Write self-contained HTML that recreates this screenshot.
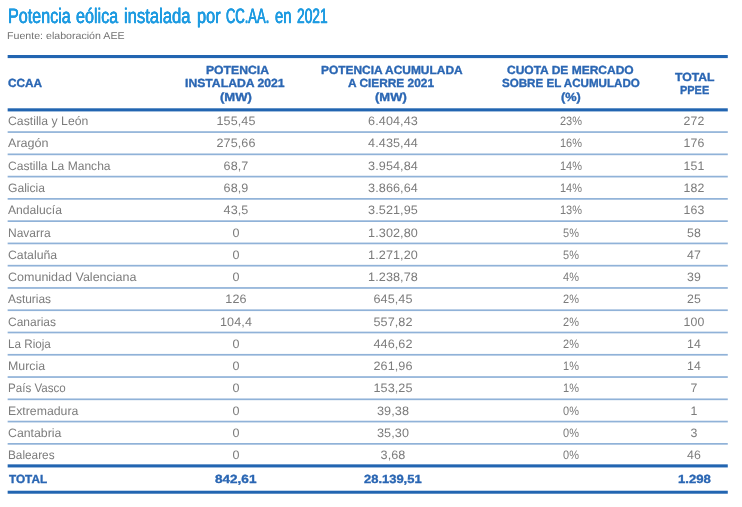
<!DOCTYPE html>
<html lang="es"><head><meta charset="utf-8"><title>Potencia eólica instalada por CC.AA. en 2021</title>
<style>
html,body{margin:0;padding:0;background:#fff;}
body{will-change:transform;text-rendering:geometricPrecision;width:742px;height:507px;position:relative;overflow:hidden;font-family:"Liberation Sans",sans-serif;}
.t{position:absolute;white-space:nowrap;line-height:1;transform-origin:0 0;}
.title{font-size:20.9px;color:#1e9be1;transform-origin:0 0;-webkit-text-stroke:0.3px #1e9be1;}
.sub{font-size:10px;color:#727272;}
.ln{position:absolute;left:0;top:0;}
.h{color:#2a66b3;font-weight:bold;font-size:11.8px;-webkit-text-stroke:0.35px #2a66b3;}
.c{transform:translateX(-50%);transform-origin:50% 50%;text-align:center;}
.d{color:#7c7c7c;font-size:12.2px;}
.n{letter-spacing:0.1px;}
.tot{color:#2a66b3;font-weight:bold;font-size:11.8px;-webkit-text-stroke:0.35px #2a66b3;}
</style></head>
<body>
<div class="t title" style="left:7.87px;top:7.00px;transform:scaleX(0.7719);text-shadow:0.22px 0 0 #1e9be1,-0.22px 0 0 #1e9be1">Potencia</div>
<div class="t title" style="left:75.66px;top:7.00px;transform:scaleX(0.7727);text-shadow:0.21px 0 0 #1e9be1,-0.21px 0 0 #1e9be1">eólica</div>
<div class="t title" style="left:124.34px;top:7.00px;transform:scaleX(0.7952);text-shadow:0.19px 0 0 #1e9be1,-0.19px 0 0 #1e9be1">instalada</div>
<div class="t title" style="left:196.95px;top:7.00px;transform:scaleX(0.7840);text-shadow:0.19px 0 0 #1e9be1,-0.19px 0 0 #1e9be1">por</div>
<div class="t title" style="left:225.95px;top:7.00px;transform:scaleX(0.6208);text-shadow:0.44px 0 0 #1e9be1,-0.44px 0 0 #1e9be1">CC.AA.</div>
<div class="t title" style="left:274.64px;top:7.00px;transform:scaleX(0.7092);text-shadow:0.27px 0 0 #1e9be1,-0.27px 0 0 #1e9be1">en</div>
<div class="t title" style="left:296.79px;top:7.00px;transform:scaleX(0.6597);text-shadow:0.37px 0 0 #1e9be1,-0.37px 0 0 #1e9be1">2021</div>
<div class="t sub" style="left:7.15px;top:32.00px;transform:scaleX(1.0626);">Fuente: elaboración AEE</div>
<svg class="ln" width="742" height="507" viewBox="0 0 742 507" shape-rendering="geometricPrecision"><g fill="#2265b1"><rect x="7.65" y="55.00" width="720.13" height="3.10"/><rect x="7.65" y="108.30" width="720.13" height="3.12"/><rect x="7.65" y="464.35" width="720.13" height="3.10"/><rect x="7.65" y="490.72" width="720.13" height="3.00"/><rect x="7.65" y="131.22" width="720.13" height="1.70" fill-opacity="0.5"/><rect x="7.65" y="153.49" width="720.13" height="1.70" fill-opacity="0.5"/><rect x="7.65" y="175.76" width="720.13" height="1.70" fill-opacity="0.5"/><rect x="7.65" y="198.03" width="720.13" height="1.70" fill-opacity="0.5"/><rect x="7.65" y="220.30" width="720.13" height="1.70" fill-opacity="0.5"/><rect x="7.65" y="242.57" width="720.13" height="1.70" fill-opacity="0.5"/><rect x="7.65" y="264.84" width="720.13" height="1.70" fill-opacity="0.5"/><rect x="7.65" y="287.11" width="720.13" height="1.70" fill-opacity="0.5"/><rect x="7.65" y="309.38" width="720.13" height="1.70" fill-opacity="0.5"/><rect x="7.65" y="331.65" width="720.13" height="1.70" fill-opacity="0.5"/><rect x="7.65" y="353.92" width="720.13" height="1.70" fill-opacity="0.5"/><rect x="7.65" y="376.19" width="720.13" height="1.70" fill-opacity="0.5"/><rect x="7.65" y="398.46" width="720.13" height="1.70" fill-opacity="0.5"/><rect x="7.65" y="420.73" width="720.13" height="1.70" fill-opacity="0.5"/><rect x="7.65" y="443.00" width="720.13" height="1.70" fill-opacity="0.5"/></g></svg>
<div class="t h" style="left:7.50px;top:78.00px;transform:scaleX(1.0011);">CCAA</div>
<div class="t h" style="left:206.18px;top:65.00px;transform:scaleX(1.0325);">POTENCIA</div>
<div class="t h" style="left:185.38px;top:78.00px;transform:scaleX(1.0338);">INSTALADA 2021</div>
<div class="t h" style="left:219.95px;top:92.00px;transform:scaleX(1.1081);">(MW)</div>
<div class="t h" style="left:321.19px;top:65.00px;transform:scaleX(1.0113);">POTENCIA ACUMULADA</div>
<div class="t h" style="left:348.20px;top:78.00px;transform:scaleX(1.0064);">A CIERRE 2021</div>
<div class="t h" style="left:375.25px;top:92.00px;transform:scaleX(1.1009);">(MW)</div>
<div class="t h" style="left:507.29px;top:65.00px;transform:scaleX(1.0176);">CUOTA DE MERCADO</div>
<div class="t h" style="left:501.61px;top:78.00px;transform:scaleX(0.9824);">SOBRE EL ACUMULADO</div>
<div class="t h" style="left:561.26px;top:92.00px;transform:scaleX(1.0796);">(%)</div>
<div class="t h" style="left:674.95px;top:72.00px;transform:scaleX(1.0350);">TOTAL</div>
<div class="t h" style="left:679.85px;top:85.00px;transform:scaleX(0.9273);">PPEE</div>
<div class="t d" style="left:7.50px;top:115.00px;transform:scaleX(1.0046);">Castilla y León</div>
<div class="t d n c" style="left:235.8px;top:115.00px;transform:translateX(-50%) scaleX(1.030)">155,45</div>
<div class="t d n c" style="left:392.9px;top:115.00px;transform:translateX(-50%) scaleX(1.035)">6.404,43</div>
<div class="t d n c" style="left:570.8px;top:115.00px;transform:translateX(-50%) scaleX(0.900)">23%</div>
<div class="t d n c" style="left:694.3px;top:115.00px;transform:translateX(-50%) scaleX(1.010)">272</div>
<div class="t d" style="left:8.10px;top:137.00px;transform:scaleX(1.0323);">Aragón</div>
<div class="t d n c" style="left:235.8px;top:137.00px;transform:translateX(-50%) scaleX(1.030)">275,66</div>
<div class="t d n c" style="left:392.9px;top:137.00px;transform:translateX(-50%) scaleX(1.035)">4.435,44</div>
<div class="t d n c" style="left:570.8px;top:137.00px;transform:translateX(-50%) scaleX(0.900)">16%</div>
<div class="t d n c" style="left:694.3px;top:137.00px;transform:translateX(-50%) scaleX(1.010)">176</div>
<div class="t d" style="left:7.61px;top:160.00px;transform:scaleX(0.9896);">Castilla La Mancha</div>
<div class="t d n c" style="left:235.8px;top:160.00px;transform:translateX(-50%) scaleX(1.030)">68,7</div>
<div class="t d n c" style="left:392.9px;top:160.00px;transform:translateX(-50%) scaleX(1.035)">3.954,84</div>
<div class="t d n c" style="left:570.8px;top:160.00px;transform:translateX(-50%) scaleX(0.900)">14%</div>
<div class="t d n c" style="left:694.3px;top:160.00px;transform:translateX(-50%) scaleX(1.010)">151</div>
<div class="t d" style="left:7.60px;top:182.00px;transform:scaleX(0.9944);">Galicia</div>
<div class="t d n c" style="left:235.8px;top:182.00px;transform:translateX(-50%) scaleX(1.030)">68,9</div>
<div class="t d n c" style="left:392.9px;top:182.00px;transform:translateX(-50%) scaleX(1.035)">3.866,64</div>
<div class="t d n c" style="left:570.8px;top:182.00px;transform:translateX(-50%) scaleX(0.900)">14%</div>
<div class="t d n c" style="left:694.3px;top:182.00px;transform:translateX(-50%) scaleX(1.010)">182</div>
<div class="t d" style="left:8.20px;top:204.00px;transform:scaleX(0.9949);">Andalucía</div>
<div class="t d n c" style="left:235.8px;top:204.00px;transform:translateX(-50%) scaleX(1.030)">43,5</div>
<div class="t d n c" style="left:392.9px;top:204.00px;transform:translateX(-50%) scaleX(1.035)">3.521,95</div>
<div class="t d n c" style="left:570.8px;top:204.00px;transform:translateX(-50%) scaleX(0.900)">13%</div>
<div class="t d n c" style="left:694.3px;top:204.00px;transform:translateX(-50%) scaleX(1.010)">163</div>
<div class="t d" style="left:7.62px;top:227.00px;transform:scaleX(0.9834);">Navarra</div>
<div class="t d n c" style="left:235.8px;top:227.00px;transform:translateX(-50%) scaleX(1.030)">0</div>
<div class="t d n c" style="left:392.9px;top:227.00px;transform:translateX(-50%) scaleX(1.035)">1.302,80</div>
<div class="t d n c" style="left:570.8px;top:227.00px;transform:translateX(-50%) scaleX(0.900)">5%</div>
<div class="t d n c" style="left:694.3px;top:227.00px;transform:translateX(-50%) scaleX(1.010)">58</div>
<div class="t d" style="left:7.60px;top:249.00px;transform:scaleX(1.0072);">Cataluña</div>
<div class="t d n c" style="left:235.8px;top:249.00px;transform:translateX(-50%) scaleX(1.030)">0</div>
<div class="t d n c" style="left:392.9px;top:249.00px;transform:translateX(-50%) scaleX(1.035)">1.271,20</div>
<div class="t d n c" style="left:570.8px;top:249.00px;transform:translateX(-50%) scaleX(0.900)">5%</div>
<div class="t d n c" style="left:694.3px;top:249.00px;transform:translateX(-50%) scaleX(1.010)">47</div>
<div class="t d" style="left:7.58px;top:271.00px;transform:scaleX(1.0268);">Comunidad Valenciana</div>
<div class="t d n c" style="left:235.8px;top:271.00px;transform:translateX(-50%) scaleX(1.030)">0</div>
<div class="t d n c" style="left:392.9px;top:271.00px;transform:translateX(-50%) scaleX(1.035)">1.238,78</div>
<div class="t d n c" style="left:570.8px;top:271.00px;transform:translateX(-50%) scaleX(0.900)">4%</div>
<div class="t d n c" style="left:694.3px;top:271.00px;transform:translateX(-50%) scaleX(1.010)">39</div>
<div class="t d" style="left:8.20px;top:293.00px;transform:scaleX(0.9778);">Asturias</div>
<div class="t d n c" style="left:235.8px;top:293.00px;transform:translateX(-50%) scaleX(1.030)">126</div>
<div class="t d n c" style="left:392.9px;top:293.00px;transform:translateX(-50%) scaleX(1.035)">645,45</div>
<div class="t d n c" style="left:570.8px;top:293.00px;transform:translateX(-50%) scaleX(0.900)">2%</div>
<div class="t d n c" style="left:694.3px;top:293.00px;transform:translateX(-50%) scaleX(1.010)">25</div>
<div class="t d" style="left:7.61px;top:316.00px;transform:scaleX(0.9838);">Canarias</div>
<div class="t d n c" style="left:235.8px;top:316.00px;transform:translateX(-50%) scaleX(1.030)">104,4</div>
<div class="t d n c" style="left:392.9px;top:316.00px;transform:translateX(-50%) scaleX(1.035)">557,82</div>
<div class="t d n c" style="left:570.8px;top:316.00px;transform:translateX(-50%) scaleX(0.900)">2%</div>
<div class="t d n c" style="left:694.3px;top:316.00px;transform:translateX(-50%) scaleX(1.010)">100</div>
<div class="t d" style="left:7.64px;top:338.00px;transform:scaleX(0.9571);">La Rioja</div>
<div class="t d n c" style="left:235.8px;top:338.00px;transform:translateX(-50%) scaleX(1.030)">0</div>
<div class="t d n c" style="left:392.9px;top:338.00px;transform:translateX(-50%) scaleX(1.035)">446,62</div>
<div class="t d n c" style="left:570.8px;top:338.00px;transform:translateX(-50%) scaleX(0.900)">2%</div>
<div class="t d n c" style="left:694.3px;top:338.00px;transform:translateX(-50%) scaleX(1.010)">14</div>
<div class="t d" style="left:7.59px;top:360.00px;transform:scaleX(1.0135);">Murcia</div>
<div class="t d n c" style="left:235.8px;top:360.00px;transform:translateX(-50%) scaleX(1.030)">0</div>
<div class="t d n c" style="left:392.9px;top:360.00px;transform:translateX(-50%) scaleX(1.035)">261,96</div>
<div class="t d n c" style="left:570.8px;top:360.00px;transform:translateX(-50%) scaleX(0.900)">1%</div>
<div class="t d n c" style="left:694.3px;top:360.00px;transform:translateX(-50%) scaleX(1.010)">14</div>
<div class="t d" style="left:7.65px;top:382.00px;transform:scaleX(0.9508);">País Vasco</div>
<div class="t d n c" style="left:235.8px;top:382.00px;transform:translateX(-50%) scaleX(1.030)">0</div>
<div class="t d n c" style="left:392.9px;top:382.00px;transform:translateX(-50%) scaleX(1.035)">153,25</div>
<div class="t d n c" style="left:570.8px;top:382.00px;transform:translateX(-50%) scaleX(0.900)">1%</div>
<div class="t d n c" style="left:694.3px;top:382.00px;transform:translateX(-50%) scaleX(1.010)">7</div>
<div class="t d" style="left:7.59px;top:405.00px;transform:scaleX(1.0079);">Extremadura</div>
<div class="t d n c" style="left:235.8px;top:405.00px;transform:translateX(-50%) scaleX(1.030)">0</div>
<div class="t d n c" style="left:392.9px;top:405.00px;transform:translateX(-50%) scaleX(1.035)">39,38</div>
<div class="t d n c" style="left:570.8px;top:405.00px;transform:translateX(-50%) scaleX(0.900)">0%</div>
<div class="t d n c" style="left:694.3px;top:405.00px;transform:translateX(-50%) scaleX(1.010)">1</div>
<div class="t d" style="left:7.59px;top:427.00px;transform:scaleX(1.0093);">Cantabria</div>
<div class="t d n c" style="left:235.8px;top:427.00px;transform:translateX(-50%) scaleX(1.030)">0</div>
<div class="t d n c" style="left:392.9px;top:427.00px;transform:translateX(-50%) scaleX(1.035)">35,30</div>
<div class="t d n c" style="left:570.8px;top:427.00px;transform:translateX(-50%) scaleX(0.900)">0%</div>
<div class="t d n c" style="left:694.3px;top:427.00px;transform:translateX(-50%) scaleX(1.010)">3</div>
<div class="t d" style="left:7.63px;top:449.00px;transform:scaleX(0.9679);">Baleares</div>
<div class="t d n c" style="left:235.8px;top:449.00px;transform:translateX(-50%) scaleX(1.030)">0</div>
<div class="t d n c" style="left:392.9px;top:449.00px;transform:translateX(-50%) scaleX(1.035)">3,68</div>
<div class="t d n c" style="left:570.8px;top:449.00px;transform:translateX(-50%) scaleX(0.900)">0%</div>
<div class="t d n c" style="left:694.3px;top:449.00px;transform:translateX(-50%) scaleX(1.010)">46</div>
<div class="t tot" style="left:8.70px;top:474.00px;transform:scaleX(0.9966);">TOTAL</div>
<div class="t tot" style="left:215.16px;top:474.00px;transform:scaleX(1.1484);">842,61</div>
<div class="t tot" style="left:363.86px;top:474.00px;transform:scaleX(1.0978);">28.139,51</div>
<div class="t tot" style="left:677.82px;top:474.00px;transform:scaleX(1.1136);">1.298</div>
</body></html>
